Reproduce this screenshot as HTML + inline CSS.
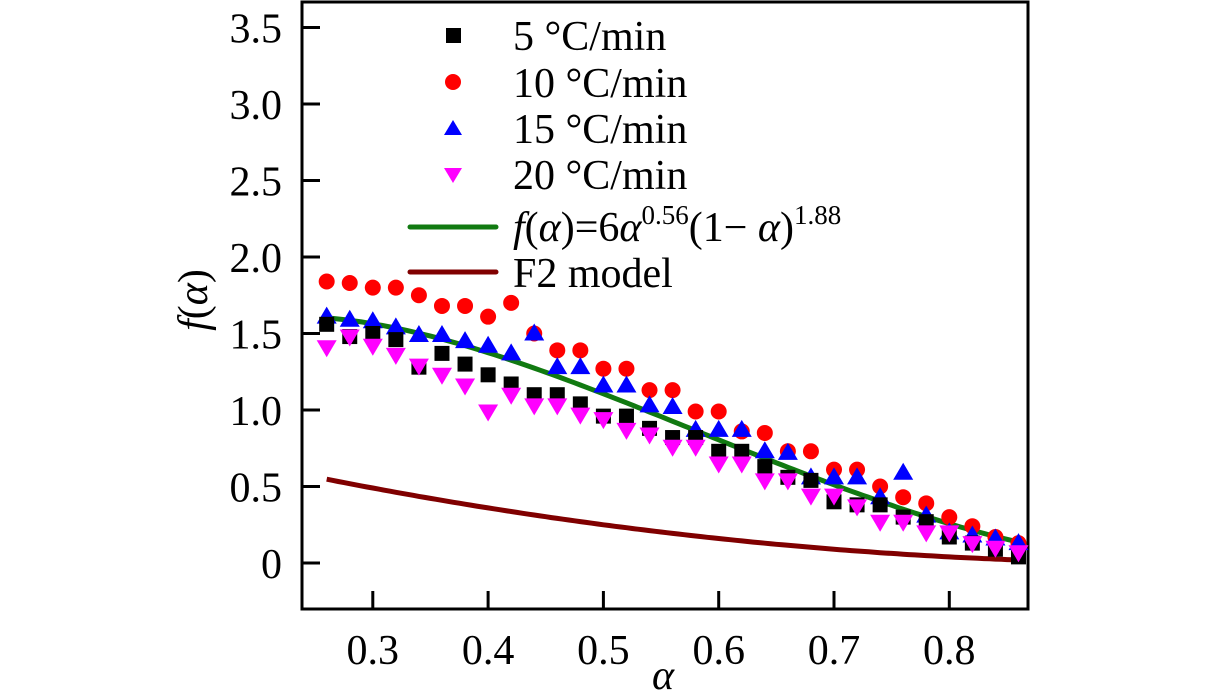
<!DOCTYPE html>
<html><head><meta charset="utf-8"><style>
html,body{margin:0;padding:0;background:#fff;}
svg, svg text{font-family:"Liberation Serif","DejaVu Serif",serif;}
svg{display:block;}
</style></head><body>
<svg id="chart" width="1231" height="693" viewBox="0 0 1231 693" xmlns="http://www.w3.org/2000/svg" font-family="Liberation Serif, serif">
<rect width="1231" height="693" fill="#fff"/>
<g id="axes"></g>
<g id="curves"></g>
<g id="points"></g>
<g id="legend" font-family="Liberation Serif, serif">
  <rect x="446" y="28" width="15" height="15" fill="#000"/>
  <text x="513" y="50" font-size="42">5 °C/min</text>
  <circle cx="453" cy="82" r="8" fill="#f00"/>
  <text x="513" y="97" font-size="42">10 °C/min</text>
  <polygon points="453,120 462,135 444,135" fill="#00f"/>
  <text x="513" y="143" font-size="42">15 °C/min</text>
  <polygon points="444,168 462,168 453,183" fill="#f0f"/>
  <text x="513" y="189" font-size="42">20 °C/min</text>
  <line x1="410" y1="227" x2="496" y2="227" stroke="#117a11" stroke-width="5" stroke-linecap="round"/>
  <text x="513" y="241" font-size="42"><tspan font-style="italic">f</tspan>(<tspan font-style="italic">α</tspan>)=6<tspan font-style="italic">α</tspan><tspan font-size="27" dy="-17">0.56</tspan><tspan dy="17">(1− </tspan><tspan font-style="italic">α</tspan>)<tspan font-size="27" dy="-17">1.88</tspan></text>
  <line x1="410" y1="272" x2="496" y2="272" stroke="#800000" stroke-width="5" stroke-linecap="round"/>
  <text x="513" y="287" font-size="42">F2 model</text>
</g>
<text x="663" y="689" font-size="42" font-style="italic" text-anchor="middle">α</text>
<text transform="translate(207,300) rotate(-90)" font-size="42" text-anchor="middle"><tspan font-style="italic">f</tspan>(<tspan font-style="italic">α</tspan>)</text>
</svg>
<script>
const alphas = [0.26,0.28,0.30,0.32,0.34,0.36,0.38,0.40,0.42,0.44,0.46,0.48,0.50,0.52,0.54,0.56,0.58,0.60,0.62,0.64,0.66,0.68,0.70,0.72,0.74,0.76,0.78,0.80,0.82,0.84,0.86];
const s5  = [1.56,1.48,1.50,1.46,1.28,1.37,1.30,1.23,1.17,1.10,1.10,1.04,0.96,0.96,0.88,0.82,0.82,0.73,0.73,0.63,0.56,0.54,0.40,0.38,0.38,0.30,0.27,0.17,0.13,0.09,0.04];
const s10 = [1.84,1.83,1.80,1.80,1.75,1.68,1.68,1.61,1.70,1.50,1.39,1.39,1.27,1.27,1.13,1.13,0.99,0.99,0.86,0.85,0.73,0.73,0.61,0.61,0.50,0.43,0.39,0.30,0.24,0.17,0.13];
const s15 = [1.61,1.59,1.58,1.54,1.49,1.49,1.45,1.42,1.37,1.50,1.28,1.28,1.16,1.16,1.03,1.02,0.87,0.87,0.87,0.73,0.72,0.56,0.56,0.56,0.43,0.59,0.31,0.20,0.18,0.16,0.13];
const s20 = [1.41,1.48,1.42,1.36,1.29,1.23,1.16,0.99,1.10,1.03,1.03,0.97,0.94,0.87,0.84,0.76,0.76,0.65,0.65,0.54,0.54,0.44,0.44,0.37,0.27,0.27,0.20,0.20,0.13,0.10,0.07];
const xTicks = [0.3,0.4,0.5,0.6,0.7,0.8];
const xTickLabels = ["0.3","0.4","0.5","0.6","0.7","0.8"];
const yTicks = [0,0.5,1.0,1.5,2.0,2.5,3.0,3.5];
const yTickLabels = ["0","0.5","1.0","1.5","2.0","2.5","3.0","3.5"];
const fitParams = [6,0.56,1.88];
const f2Params = [1,0,2];
const curveRange = [0.26,0.86];

const NS="http://www.w3.org/2000/svg";
const X = a => 834 + (a-0.7)*1153;
const Y = v => 563 - v*153;
function mk(tag, attrs, parent){const e=document.createElementNS(NS,tag);for(const k in attrs)e.setAttribute(k,attrs[k]);parent.appendChild(e);return e;}
const axes=document.getElementById('axes');
let fr=mk('rect',{x:302,y:2,width:726,height:607,fill:'none',stroke:'#000','stroke-width':3},axes);


xTicks.forEach((t,i)=>{
  let l=mk('line',{x1:X(t),x2:X(t),y1:609,y2:591,stroke:'#000','stroke-width':3},axes);
  
  
  let tx=mk('text',{x:X(t),y:664,'font-size':42,'text-anchor':'middle','font-family':'Liberation Serif, serif'},axes);
  tx.textContent=xTickLabels[i];
  
  
});
yTicks.forEach((t,i)=>{
  let l=mk('line',{x1:302,x2:320,y1:Y(t),y2:Y(t),stroke:'#000','stroke-width':3},axes);
  
  
  let tx=mk('text',{x:282,y:Y(t)+15,'font-size':42,'text-anchor':'end','font-family':'Liberation Serif, serif'},axes);
  tx.textContent=yTickLabels[i];
  
  
});
const curves=document.getElementById('curves');
function curve(p,color,name){
  let d='';
  for(let i=0;i<=120;i++){const a=curveRange[0]+(curveRange[1]-curveRange[0])*i/120;const v=p[0]*Math.pow(a,p[1])*Math.pow(1-a,p[2]);d+=(i?'L':'M')+X(a).toFixed(1)+','+Y(v).toFixed(1);}
  let e=mk('path',{d:d,fill:'none',stroke:color,'stroke-width':5},curves);
  
  
}
curve(f2Params,'#800000','f2-model-line');
const pts=document.getElementById('points');
function draw(series,type,color,name){
  series.forEach((v,i)=>{
    const cx=X(alphas[i]), cy=Y(v); let e;
    if(type==='sq') e=mk('rect',{x:cx-7.5,y:cy-7.5,width:15,height:15,fill:color},pts);
    else if(type==='c') e=mk('circle',{cx:cx,cy:cy,r:8,fill:color},pts);
    else if(type==='up') e=mk('polygon',{points:`${cx},${cy-10} ${cx+10},${cy+7} ${cx-10},${cy+7}`,fill:color},pts);
    else e=mk('polygon',{points:`${cx-10},${cy-7} ${cx+10},${cy-7} ${cx},${cy+10}`,fill:color},pts);
    
    
  });
}
draw(s10,'c','#f00','point-10cmin');
draw(s15,'up','#00f','point-15cmin');
draw(s5,'sq','#000','point-5cmin');
draw(s20,'down','#f0f','point-20cmin');
curve(fitParams,'#117a11','fit-model-line');
</script>
</body></html>
